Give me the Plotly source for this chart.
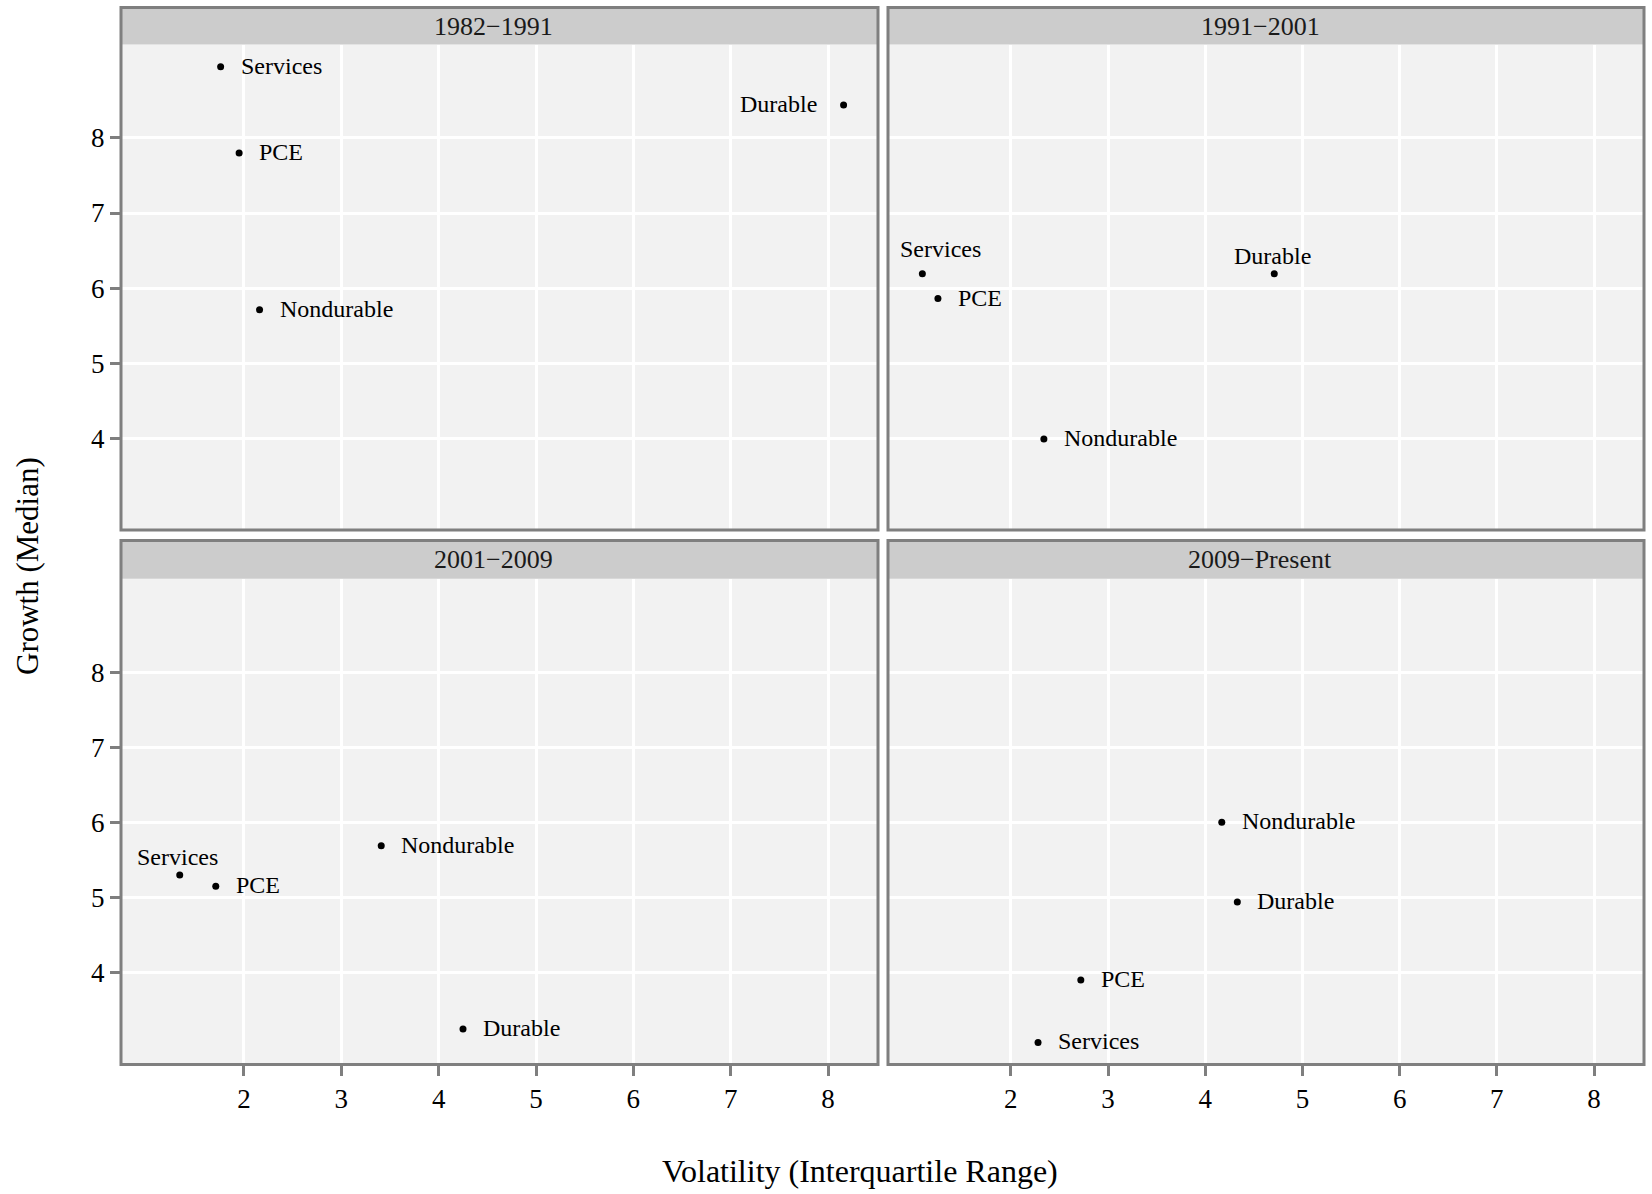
import plotly.graph_objects as go

# ---- data -------------------------------------------------------------
periods = ["1982\u22121991", "1991\u22122001", "2001\u22122009", "2009\u2212Present"]
series = ["Services", "PCE", "Nondurable", "Durable"]

# volatility (interquartile range) per period, in `series` order
volatility = {
    "1982\u22121991": [1.76, 1.95, 2.16, 8.16],
    "1991\u22122001": [1.09, 1.25, 2.34, 4.71],
    "2001\u22122009": [1.34, 1.71, 3.41, 4.25],
    "2009\u2212Present": [2.28, 2.72, 4.17, 4.33],
}
# growth (median) per period, in `series` order
growth = {
    "1982\u22121991": [8.95, 7.80, 5.71, 8.44],
    "1991\u22122001": [6.19, 5.86, 3.99, 6.19],
    "2001\u22122009": [5.30, 5.15, 5.69, 3.25],
    "2009\u2212Present": [3.07, 3.90, 6.00, 4.94],
}

x_ticks = [2, 3, 4, 5, 6, 7, 8]
y_ticks = [4, 5, 6, 7, 8]

# where each text label sits relative to its point
label_side = {
    "1982\u22121991": ["right", "right", "right", "left"],
    "1991\u22122001": ["above_r", "right", "right", "above"],
    "2001\u22122009": ["above", "right", "right", "right"],
    "2009\u2212Present": ["right", "right", "right", "right"],
}

# ---- layout geometry (pixels) -----------------------------------------
W, H = 1652, 1194
FONT = "Liberation Serif, Times New Roman, serif"
BORDER = "#7f7f7f"
PANEL_BG = "#f2f2f2"
STRIP_BG = "#cccccc"

cols = [(121, 878), (888, 1644)]
rows = [(7.4, 44.6, 530.0), (540.6, 578.7, 1064.5)]  # strip top, panel top, panel bottom


def px_x(p):
    return p / W


def px_y(p):
    return 1 - p / H


# shared scales with a 5% expansion on each side
all_x = [v for k in periods for v in volatility[k]]
all_y = [v for k in periods for v in growth[k]]
xpad = 0.05 * (max(all_x) - min(all_x))
ypad = 0.05 * (max(all_y) - min(all_y))
x_range = [min(all_x) - xpad, max(all_x) + xpad]
y_range = [min(all_y) - ypad, max(all_y) + ypad]

fig = go.Figure()
shapes = []
annotations = []

for i, period in enumerate(periods):
    r, c = divmod(i, 2)
    n = i + 1
    xa = "x" if n == 1 else f"x{n}"
    ya = "y" if n == 1 else f"y{n}"
    x0, x1 = cols[c]
    s_top, p_top, p_bot = rows[r]

    fig.add_trace(go.Scatter(
        x=volatility[period], y=growth[period], mode="markers",
        marker=dict(color="black", size=7),
        text=series, hoverinfo="text+x+y", showlegend=False,
        xaxis=xa, yaxis=ya,
    ))

    bottom_row = r == 1
    left_col = c == 0
    axis_common = dict(
        showgrid=True, gridcolor="white", gridwidth=2.5, zeroline=False,
        showline=False, ticks="outside", ticklen=10, tickwidth=3,
        tickcolor=BORDER, tickfont=dict(family=FONT, size=27, color="black"),
    )
    fig.update_layout(**{
        ("xaxis" if n == 1 else f"xaxis{n}"): dict(
            axis_common, domain=[px_x(x0), px_x(x1)], range=x_range,
            tickvals=x_ticks, showticklabels=bottom_row,
            ticks="outside" if bottom_row else "",
            anchor=ya,
        ),
        ("yaxis" if n == 1 else f"yaxis{n}"): dict(
            axis_common, domain=[px_y(p_bot), px_y(p_top)], range=y_range,
            tickvals=y_ticks, showticklabels=left_col,
            ticks="outside" if left_col else "",
            anchor=xa,
        ),
    })

    # facet strip and panel frame
    shapes.append(dict(type="rect", xref="paper", yref="paper",
                       x0=px_x(x0), x1=px_x(x1), y0=px_y(p_top), y1=px_y(s_top),
                       fillcolor=STRIP_BG, line=dict(width=0), layer="above"))
    shapes.append(dict(type="rect", xref="paper", yref="paper",
                       x0=px_x(x0), x1=px_x(x1), y0=px_y(p_bot), y1=px_y(s_top),
                       line=dict(color=BORDER, width=3), layer="above"))
    annotations.append(dict(
        text=period, xref="paper", yref="paper", showarrow=False,
        x=px_x((x0 + x1) / 2 - 6), y=px_y((s_top + p_top) / 2),
        xanchor="center", yanchor="middle",
        font=dict(family=FONT, size=26, color="#1a1a1a"),
    ))

    # point labels
    for name, xv, yv, side in zip(series, volatility[period], growth[period], label_side[period]):
        ann = dict(text=name, x=xv, y=yv, xref=xa, yref=ya, showarrow=False,
                   font=dict(family=FONT, size=24, color="black"))
        if side == "right":
            ann.update(xanchor="left", yanchor="middle", xshift=18, yshift=1)
        elif side == "left":
            ann.update(xanchor="right", yanchor="middle", xshift=-25, yshift=1)
        elif side == "above":
            ann.update(xanchor="center", yanchor="bottom", xshift=-2, yshift=3)
        elif side == "above_r":
            ann.update(xanchor="center", yanchor="bottom", xshift=18, yshift=10)
        annotations.append(ann)

# axis titles
annotations.append(dict(
    text="Volatility (Interquartile Range)", xref="paper", yref="paper",
    x=px_x(860), y=px_y(1171), showarrow=False, xanchor="center", yanchor="middle",
    font=dict(family=FONT, size=32, color="black"),
))
annotations.append(dict(
    text="Growth (Median)", xref="paper", yref="paper",
    x=px_x(27), y=px_y(566), showarrow=False, xanchor="center", yanchor="middle",
    textangle=-90, font=dict(family=FONT, size=31, color="black"),
))

fig.update_layout(
    width=W, height=H, margin=dict(l=0, r=0, t=0, b=0),
    paper_bgcolor="white", plot_bgcolor=PANEL_BG,
    shapes=shapes, annotations=annotations,
    font=dict(family=FONT, color="black"),
)

fig.write_html("out.html")
